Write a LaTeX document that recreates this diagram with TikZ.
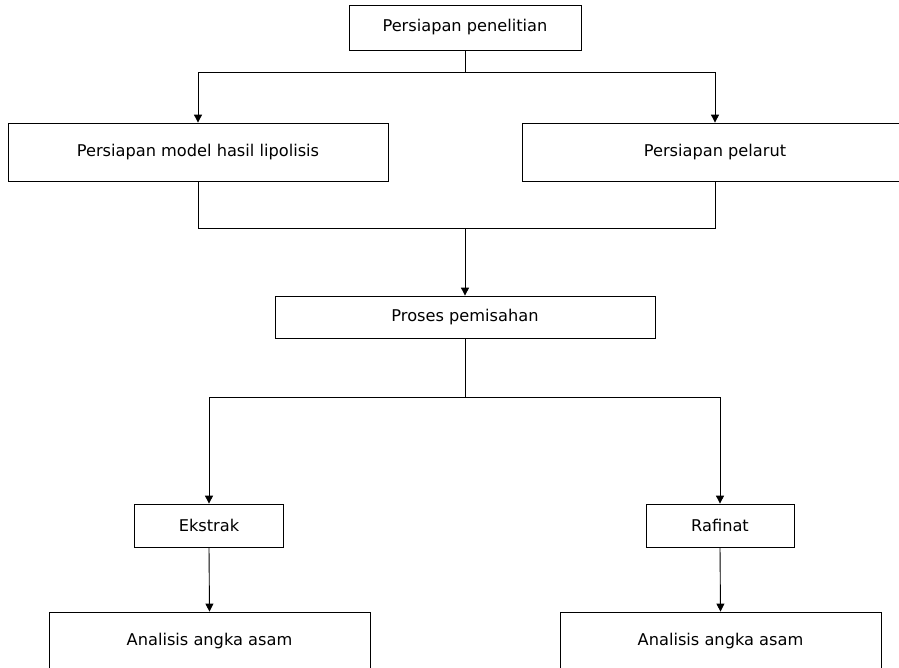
\documentclass[tikz,border=0pt]{standalone}
\usepackage{fontspec}
\setmainfont{DejaVu Sans}
\usetikzlibrary{arrows.meta}
\begin{document}
\begin{tikzpicture}[x=1pt,y=-1pt,
  box/.style={draw, line width=0.8pt, inner sep=0pt, font=\fontsize{16.2}{19}\selectfont},
  con/.style={line width=0.9pt},
  arr/.style={con, -{Triangle[width=8pt,length=8pt]}}]
\useasboundingbox (0,0) rectangle (899,667);
\clip (0,0) rectangle (899,667);
\node[box, minimum width=232pt, minimum height=45pt] (top) at (465,27.5) {Persiapan penelitian};
\node[box, minimum width=380pt, minimum height=58pt] (left) at (198,152) {Persiapan model hasil lipolisis};
\node[box, minimum width=386pt, minimum height=58pt] (right) at (715,152) {Persiapan pelarut};
\node[box, minimum width=380pt, minimum height=42pt] (proc) at (465,317) {Proses pemisahan};
\node[box, minimum width=149pt, minimum height=43pt] (ek) at (209,525.5) {Ekstrak};
\node[box, minimum width=148pt, minimum height=43pt] (raf) at (720,525.5) {Rafinat};
\node[box, minimum width=321pt, minimum height=58pt] (an1) at (209.5,641) {Analisis angka asam};
\node[box, minimum width=321pt, minimum height=58pt] (an2) at (720.5,641) {Analisis angka asam};
\coordinate (j1) at (465,72);
\coordinate (j2) at (465,228);
\coordinate (j3) at (465,397);
\draw[con] (top.south) -- (j1);
\draw[arr] (j1) -| (left.north);
\draw[arr] (j1) -| (right.north);
\draw[con] (left.south) |- (j2);
\draw[con] (right.south) |- (j2);
\draw[arr] (j2) -- (proc.north);
\draw[con] (proc.south) -- (j3);
\draw[arr] (j3) -| (ek.north);
\draw[arr] (j3) -| (raf.north);
\draw[arr] (ek.south) -- (an1.north);
\draw[arr] (raf.south) -- (an2.north);
\end{tikzpicture}
\end{document}
